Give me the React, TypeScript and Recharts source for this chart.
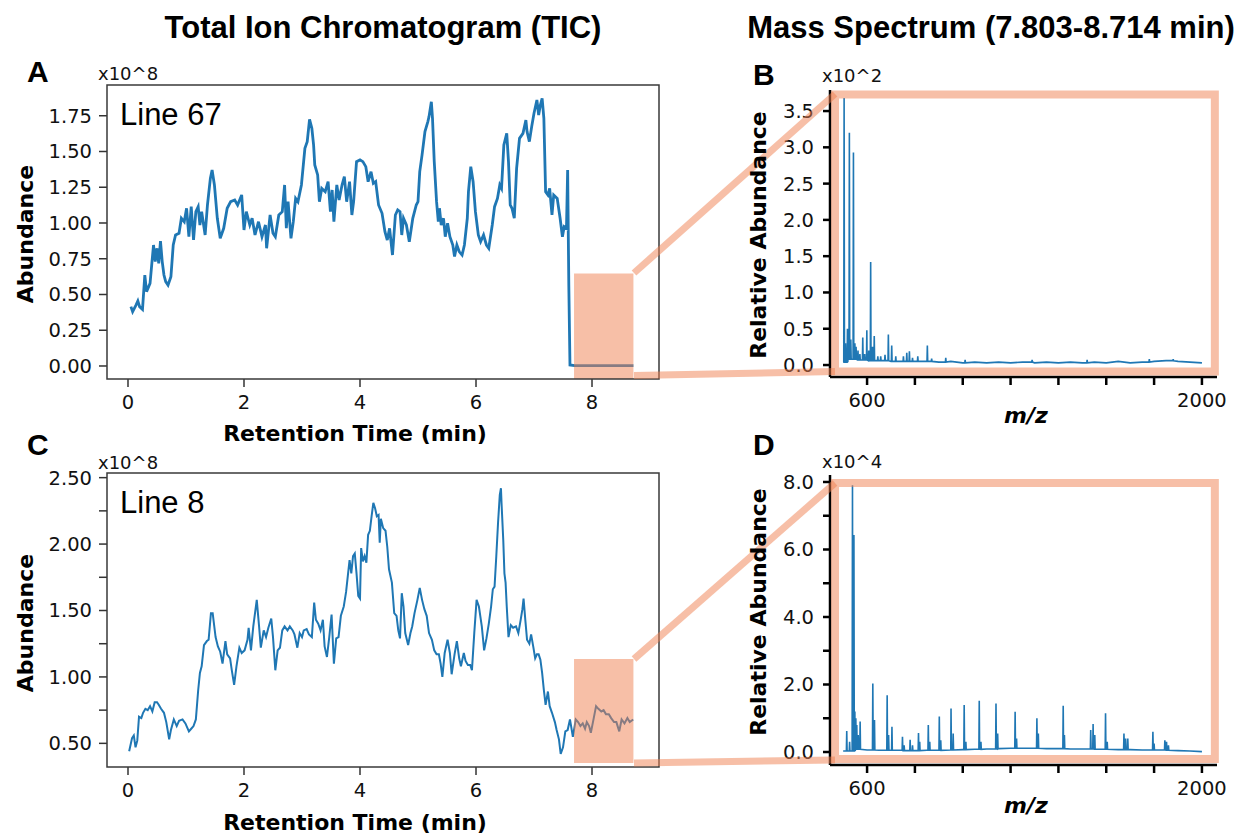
import React from "react";
import { LineChart, Line, XAxis, YAxis, ReferenceArea } from "recharts";

// ---- Panel A: TIC, Line 67 (x10^8) ----
const timeA = [
  0.05, 0.08, 0.14, 0.17, 0.2, 0.25, 0.29, 0.32, 0.38, 0.44,
  0.47, 0.5, 0.53, 0.56, 0.59, 0.62, 0.65, 0.69, 0.74, 0.78,
  0.82, 0.88, 0.92, 0.97, 1.01, 1.05, 1.09, 1.13, 1.17, 1.21,
  1.24, 1.27, 1.33, 1.37, 1.42, 1.45, 1.49, 1.54, 1.59, 1.65,
  1.71, 1.77, 1.84, 1.89, 1.96, 2.0, 2.04, 2.1, 2.14, 2.19,
  2.25, 2.31, 2.37, 2.39, 2.45, 2.5, 2.54, 2.6, 2.66, 2.7,
  2.73, 2.76, 2.81, 2.85, 2.89, 2.93, 2.99, 3.05, 3.09, 3.13,
  3.17, 3.2, 3.22, 3.27, 3.3, 3.34, 3.4, 3.45, 3.49, 3.52,
  3.55, 3.6, 3.64, 3.69, 3.73, 3.77, 3.82, 3.86, 3.89, 3.94,
  4.0, 4.05, 4.1, 4.14, 4.19, 4.23, 4.27, 4.32, 4.38, 4.43,
  4.47, 4.51, 4.56, 4.61, 4.65, 4.69, 4.72, 4.75, 4.8, 4.85,
  4.91, 4.97, 5.0, 5.03, 5.07, 5.12, 5.17, 5.19, 5.23, 5.25,
  5.28, 5.32, 5.35, 5.37, 5.4, 5.44, 5.47, 5.51, 5.55, 5.6,
  5.63, 5.67, 5.71, 5.76, 5.8, 5.85, 5.87, 5.91, 5.95, 5.99,
  6.04, 6.08, 6.13, 6.18, 6.22, 6.28, 6.32, 6.37, 6.41, 6.44,
  6.48, 6.53, 6.56, 6.59, 6.62, 6.66, 6.7, 6.75, 6.81, 6.86,
  6.88, 6.92, 6.96, 7.0, 7.05, 7.08, 7.11, 7.14, 7.17, 7.2,
  7.24, 7.27, 7.31, 7.34, 7.4, 7.45, 7.49, 7.52, 7.56, 7.58,
  7.6, 7.62, 7.7, 8.714,
];
const abundanceA = [
  0.415, 0.38, 0.427, 0.455, 0.415, 0.396, 0.636, 0.52, 0.578, 0.846,
  0.73, 0.823, 0.718, 0.874, 0.73, 0.636, 0.59, 0.566, 0.625, 0.846,
  0.916, 0.928, 1.033, 1.009, 1.103, 0.904, 1.114, 0.881, 1.079, 1.114,
  0.986, 1.079, 0.916, 1.126, 1.312, 1.371, 1.266, 1.033, 0.893, 0.963,
  1.103, 1.149, 1.161, 1.126, 1.196, 0.951, 1.079, 0.986, 1.033, 0.916,
  1.009, 0.904, 0.986, 0.823, 1.056, 0.928, 0.904, 1.056, 1.079, 1.266,
  0.963, 1.149, 0.893, 1.009, 1.172, 1.149, 1.266, 1.522, 1.569, 1.725,
  1.662, 1.545, 1.406, 1.336, 1.149, 1.242, 1.219, 1.289, 1.079, 1.231,
  1.009, 1.266, 1.161, 1.266, 1.324, 1.149, 1.289, 1.056, 1.149, 1.429,
  1.441, 1.429, 1.394, 1.289, 1.359, 1.277, 1.289, 1.126, 1.068, 0.939,
  0.881, 0.963, 0.776, 1.056, 1.091, 1.079, 0.916, 1.033, 0.986, 0.869,
  1.033, 1.126, 1.149, 1.359, 1.476, 1.639, 1.709, 1.744, 1.848, 1.732,
  1.429, 1.149, 1.009, 1.103, 0.986, 1.033, 0.904, 0.998, 0.904, 0.846,
  0.765, 0.846, 0.8, 0.776, 0.846, 1.033, 1.219, 1.394, 1.289, 1.079,
  0.916, 0.869, 0.916, 0.846, 0.823, 0.986, 1.114, 1.172, 1.266, 1.242,
  1.545, 1.627, 1.429, 1.126, 1.103, 1.033, 1.382, 1.592, 1.627, 1.72,
  1.639, 1.569, 1.674, 1.767, 1.86, 1.755, 1.825, 1.872, 1.732, 1.219,
  1.196, 1.242, 1.056, 1.196, 1.172, 1.033, 0.904, 0.974, 0.963, 1.371,
  0.566, 0.007, 0.002, 0.002,
];

// ---- Panel C: TIC, Line 8 (x10^8) ----
const timeC = [
  0.02, 0.07, 0.1, 0.13, 0.16, 0.19, 0.23, 0.26, 0.3, 0.34,
  0.38, 0.42, 0.46, 0.5, 0.53, 0.57, 0.62, 0.66, 0.71, 0.74,
  0.79, 0.84, 0.88, 0.94, 0.99, 1.05, 1.09, 1.13, 1.17, 1.21,
  1.24, 1.27, 1.31, 1.36, 1.39, 1.43, 1.46, 1.51, 1.55, 1.59,
  1.63, 1.68, 1.71, 1.76, 1.79, 1.83, 1.87, 1.92, 1.96, 2.01,
  2.06, 2.08, 2.12, 2.16, 2.22, 2.26, 2.29, 2.34, 2.38, 2.42,
  2.47, 2.5, 2.54, 2.58, 2.62, 2.66, 2.7, 2.75, 2.79, 2.84,
  2.87, 2.92, 2.96, 3.0, 3.03, 3.08, 3.12, 3.17, 3.21, 3.24,
  3.28, 3.32, 3.36, 3.39, 3.43, 3.47, 3.51, 3.55, 3.59, 3.63,
  3.67, 3.72, 3.76, 3.79, 3.82, 3.85, 3.88, 3.91, 3.94, 3.97,
  4.0, 4.02, 4.05, 4.08, 4.11, 4.14, 4.17, 4.2, 4.23, 4.26,
  4.29, 4.32, 4.34, 4.36, 4.4, 4.44, 4.47, 4.5, 4.55, 4.59,
  4.63, 4.66, 4.69, 4.72, 4.75, 4.78, 4.83, 4.87, 4.9, 4.94,
  4.99, 5.03, 5.07, 5.11, 5.15, 5.19, 5.24, 5.28, 5.32, 5.36,
  5.39, 5.42, 5.46, 5.51, 5.55, 5.58, 5.63, 5.67, 5.71, 5.74,
  5.79, 5.82, 5.86, 5.9, 5.93, 5.97, 6.01, 6.05, 6.1, 6.14,
  6.18, 6.22, 6.26, 6.29, 6.32, 6.35, 6.38, 6.41, 6.43, 6.44,
  6.47, 6.49, 6.51, 6.53, 6.56, 6.6, 6.64, 6.69, 6.73, 6.77,
  6.8, 6.82, 6.85, 6.88, 6.92, 6.95, 6.99, 7.02, 7.05, 7.08,
  7.11, 7.14, 7.17, 7.2, 7.24, 7.27, 7.31, 7.36, 7.39, 7.43,
  7.46, 7.5, 7.54, 7.58, 7.62, 7.67, 7.72, 7.76, 7.8, 7.84,
  7.88, 7.91, 7.95, 7.98, 8.03, 8.07, 8.11, 8.16, 8.2, 8.24,
  8.29, 8.33, 8.38, 8.42, 8.47, 8.51, 8.56, 8.61, 8.65, 8.71,
];
const abundanceC = [
  0.44, 0.54, 0.56, 0.47, 0.52, 0.7, 0.69, 0.73, 0.76, 0.75,
  0.78, 0.74, 0.81, 0.81, 0.79, 0.76, 0.73, 0.66, 0.53, 0.6,
  0.68, 0.63, 0.67, 0.68, 0.65, 0.59, 0.61, 0.63, 0.68, 0.9,
  1.03, 1.08, 1.24, 1.27, 1.28, 1.48, 1.48, 1.3, 1.23, 1.19,
  1.1, 1.27, 1.17, 1.14, 1.05, 0.94, 1.08, 1.22, 1.18, 1.2,
  1.28, 1.37, 1.2, 1.38, 1.58, 1.38, 1.22, 1.35, 1.3, 1.37,
  1.44, 1.3, 1.05, 1.2, 1.22, 1.35, 1.38, 1.35, 1.38, 1.35,
  1.32, 1.22, 1.33, 1.3, 1.35, 1.36, 1.32, 1.3, 1.56, 1.43,
  1.4, 1.35, 1.43, 1.23, 1.15, 1.3, 1.47, 1.1, 1.29, 1.3,
  1.46, 1.53, 1.64, 1.76, 1.88, 1.78, 1.91, 1.93, 1.78, 1.61,
  1.59, 1.97, 1.87, 1.91, 1.86, 2.07, 2.1, 2.21, 2.31, 2.27,
  2.21, 2.22, 2.01, 2.19, 2.12, 2.1, 1.98, 1.81, 1.71, 1.48,
  1.46, 1.35, 1.29, 1.63, 1.53, 1.33, 1.24, 1.33, 1.38, 1.48,
  1.58, 1.67, 1.58, 1.51, 1.46, 1.33, 1.28, 1.2, 1.17, 1.17,
  1.1, 1.0, 1.18, 1.28, 1.18, 1.02, 1.17, 1.27, 1.14, 1.08,
  1.18, 1.12, 1.09, 1.09, 1.05, 1.33, 1.58, 1.53, 1.38, 1.2,
  1.29, 1.4, 1.53, 1.66, 1.68, 1.91, 2.16, 2.37, 2.42, 2.31,
  2.03, 1.78, 1.71, 1.53, 1.3, 1.39, 1.37, 1.38, 1.33, 1.43,
  1.51, 1.59, 1.43, 1.28, 1.25, 1.32, 1.22, 1.14, 1.17, 1.17,
  1.13, 1.03, 0.9, 0.79, 0.89, 0.78, 0.73, 0.66, 0.6, 0.53,
  0.42, 0.47, 0.59, 0.6, 0.68, 0.55, 0.68, 0.66, 0.63, 0.65,
  0.61, 0.66, 0.63, 0.58, 0.69, 0.78, 0.76, 0.74, 0.75, 0.72,
  0.72, 0.69, 0.66, 0.66, 0.59, 0.68, 0.65, 0.69, 0.66, 0.68,
];

// ---- Panel B: mass spectrum for Line 67 (x10^2) ----
const mzBaseB = [500, 520, 560, 600, 650, 700, 750, 800, 850, 900, 950, 1000, 1050, 1100, 1150, 1200, 1250, 1300, 1350, 1400, 1450, 1500, 1550, 1600, 1650, 1700, 1750, 1800, 1850, 1900, 1950, 2000];
const baseB = [0.04, 0.08, 0.07, 0.06, 0.06, 0.05, 0.05, 0.05, 0.05, 0.04, 0.05, 0.03, 0.04, 0.03, 0.04, 0.03, 0.04, 0.03, 0.04, 0.03, 0.04, 0.03, 0.04, 0.03, 0.05, 0.03, 0.04, 0.05, 0.06, 0.05, 0.04, 0.03];
const mzPeakB = [504, 510, 518, 526, 532, 543, 549, 554, 562, 570, 582, 590, 599, 607, 615, 623, 630, 645, 657, 675, 689, 703, 720, 752, 766, 777, 790, 812, 852, 870, 929, 1010, 1290, 1520, 1780, 1880];
const peakB = [3.68, 0.3, 0.5, 3.2, 0.35, 2.93, 0.3, 0.25, 0.2, 0.15, 0.38, 0.15, 0.48, 0.2, 1.42, 0.25, 0.4, 0.12, 0.12, 0.14, 0.42, 0.27, 0.12, 0.12, 0.17, 0.19, 0.1, 0.12, 0.27, 0.09, 0.1, 0.07, 0.07, 0.07, 0.08, 0.08];

// ---- Panel D: mass spectrum for Line 8 (x10^4) ----
const mzBaseD = [500, 550, 600, 650, 700, 750, 800, 850, 900, 950, 1000, 1050, 1100, 1150, 1200, 1250, 1300, 1350, 1400, 1450, 1500, 1550, 1600, 1650, 1700, 1750, 1800, 1850, 1900, 1950, 2000];
const baseD = [0.03, 0.08, 0.06, 0.05, 0.05, 0.04, 0.04, 0.05, 0.05, 0.06, 0.07, 0.08, 0.09, 0.1, 0.11, 0.11, 0.11, 0.1, 0.1, 0.09, 0.09, 0.08, 0.08, 0.07, 0.07, 0.06, 0.06, 0.05, 0.04, 0.03, 0.01];
const mzPeakD = [515, 527, 539, 545, 549, 553, 557, 563, 571, 624, 631, 684, 690, 704, 748, 755, 780, 790, 815, 820, 856, 862, 902, 908, 951, 960, 1006, 1013, 1069, 1076, 1139, 1146, 1219, 1225, 1310, 1316, 1420, 1425, 1535, 1545, 1552, 1597, 1604, 1674, 1681, 1690, 1795, 1800, 1845, 1852, 1860];
const peakD = [0.62, 0.3, 7.9, 6.43, 1.2, 1.0, 0.8, 0.5, 0.9, 2.03, 0.95, 1.68, 0.5, 0.75, 0.45, 0.2, 0.36, 0.2, 0.56, 0.3, 0.8, 0.3, 1.05, 0.35, 1.29, 0.55, 1.39, 0.3, 1.52, 0.3, 1.44, 0.55, 1.19, 0.4, 1.0, 0.55, 1.37, 0.5, 0.65, 0.83, 0.5, 1.15, 0.3, 0.55, 0.4, 0.4, 0.6, 0.25, 0.35, 0.3, 0.2];

// tick values
const timeTicks = [0, 2, 4, 6, 8];
const ticksA = [0, 0.25, 0.5, 0.75, 1, 1.25, 1.5, 1.75];
const ticksC = [0.5, 0.75, 1, 1.25, 1.5, 1.75, 2, 2.25, 2.5];
const mzTicks = [600, 800, 1000, 1200, 1400, 1600, 1800, 2000];
const ticksB = [0, 0.5, 1, 1.5, 2, 2.5, 3, 3.5];
const ticksD = [0, 1, 2, 3, 4, 5, 6, 7, 8];

const selStart = 7.69;
const selEnd = 8.714;

const BLUE = "#1f77b4";
const SALMON = "#F08050";
const TICK_FONT = "DejaVu Sans";
const tickStyle = { fontSize: 19.5, fontFamily: TICK_FONT, fill: "#111" };

// axis band sizes (plot offsets are margin + these)
const X_H = 30;
const Y_W = 60;

const dataA = timeA.map((t, i) => ({ t, v: abundanceA[i] }));
const dataC = timeC.map((t, i) => ({ t, v: abundanceC[i] }));

function buildSpectrum(baseMz: number[], baseVal: number[], peakMz: number[], peakVal: number[]) {
  const pts = baseMz.map((mz, i) => ({ mz, v: baseVal[i] }));
  peakMz.forEach((mz, i) => {
    let foot = baseVal[0];
    baseMz.forEach((b, j) => {
      if (b <= mz) foot = baseVal[j];
    });
    pts.push({ mz: mz - 1.5, v: foot }, { mz, v: peakVal[i] }, { mz: mz + 1.5, v: foot });
  });
  return pts.sort((a, b) => a.mz - b.mz);
}

const dataB = buildSpectrum(mzBaseB, baseB, mzPeakB, peakB);
const dataD = buildSpectrum(mzBaseD, baseD, mzPeakD, peakD);

const halfStep = (v: number) => (Math.abs(v * 2 - Math.round(v * 2)) < 1e-6 ? v.toFixed(2) : "");
const evenOnly = (v: number) => (v % 2 === 0 ? v.toFixed(1) : "");
const mzLabel = (v: number) => (v === 600 || v === 2000 ? String(v) : "");

// plot box: left 107, right 659 (chart width 680)
function TicPanel({ data, yDomain, yTicks, yFormat, rect, strokeWidth, top, bottom, height }: any) {
  const xDomain = [-0.362, 9.155];
  return (
    <LineChart
      width={680}
      height={height}
      data={data}
      margin={{ top, right: 21, bottom: bottom - X_H, left: 107 - Y_W }}
    >
      <XAxis
        type="number"
        dataKey="t"
        domain={xDomain}
        allowDataOverflow
        ticks={timeTicks}
        interval={0}
        height={X_H}
        axisLine={false}
        tickSize={8}
        tickMargin={8}
        tickLine={{ stroke: "#333", strokeWidth: 1.5 }}
        tick={tickStyle}
      />
      <YAxis
        type="number"
        domain={yDomain}
        allowDataOverflow
        ticks={yTicks}
        interval={0}
        tickFormatter={yFormat}
        width={Y_W}
        axisLine={false}
        tickSize={8}
        tickMargin={7}
        tickLine={{ stroke: "#333", strokeWidth: 1.5 }}
        tick={tickStyle}
      />
      <Line
        type="linear"
        dataKey="v"
        stroke={BLUE}
        strokeWidth={strokeWidth}
        dot={false}
        activeDot={false}
        isAnimationActive={false}
      />
      <ReferenceArea
        x1={selStart}
        x2={selEnd}
        y1={rect[0]}
        y2={rect[1]}
        fill={SALMON}
        fillOpacity={0.5}
        stroke="none"
        zIndex={900}
      />
      <ReferenceArea
        x1={xDomain[0]}
        x2={xDomain[1]}
        y1={yDomain[0]}
        y2={yDomain[1]}
        fill="none"
        stroke="#3a3a3a"
        strokeWidth={1.5}
        zIndex={950}
      />
    </LineChart>
  );
}

// plot box: left 830, right 1217 (chart at x=680, width 564)
function SpectrumPanel({ data, yDomain, yTicks, yFormat, box, top, bottom, height }: any) {
  return (
    <LineChart
      width={564}
      height={height}
      data={data}
      margin={{ top, right: 27, bottom: bottom - X_H, left: 150 - Y_W }}
    >
      <XAxis
        type="number"
        dataKey="mz"
        domain={[445, 2063]}
        allowDataOverflow
        ticks={mzTicks}
        interval={0}
        tickFormatter={mzLabel}
        height={X_H}
        axisLine={{ stroke: "#000", strokeWidth: 2.5 }}
        tickSize={8}
        tickMargin={8}
        tickLine={{ stroke: "#000", strokeWidth: 2.5 }}
        tick={tickStyle}
      />
      <YAxis
        type="number"
        domain={yDomain}
        allowDataOverflow
        ticks={yTicks}
        interval={0}
        tickFormatter={yFormat}
        width={Y_W}
        axisLine={{ stroke: "#000", strokeWidth: 2.5 }}
        tickSize={7}
        tickMargin={9}
        tickLine={{ stroke: "#000", strokeWidth: 2.5 }}
        tick={tickStyle}
      />
      <Line
        type="linear"
        dataKey="v"
        stroke={BLUE}
        strokeWidth={1.6}
        dot={false}
        activeDot={false}
        isAnimationActive={false}
      />
      <ReferenceArea
        x1={466}
        x2={2054}
        y1={box[0]}
        y2={box[1]}
        fill="none"
        stroke={SALMON}
        strokeOpacity={0.5}
        strokeWidth={8}
        zIndex={900}
      />
    </LineChart>
  );
}

const labelFont = "DejaVu Sans";
const titleFont = "Liberation Sans";

export default function App() {
  return (
    <div
      style={{
        position: "absolute",
        left: 0,
        top: 0,
        width: 1244,
        height: 835,
        background: "#fff",
        overflow: "hidden",
      }}
    >
      <div style={{ position: "absolute", left: 0, top: 0 }}>
        <TicPanel
          data={dataA}
          height={460}
          top={85}
          bottom={81}
          yDomain={[-0.091, 1.965]}
          yTicks={ticksA}
          yFormat={(v: number) => v.toFixed(2)}
          rect={[-0.091, 0.646]}
          strokeWidth={2.8}
        />
      </div>
      <div style={{ position: "absolute", left: 0, top: 440 }}>
        <TicPanel
          data={dataC}
          height={395}
          top={33}
          bottom={68}
          yDomain={[0.322, 2.535]}
          yTicks={ticksC}
          yFormat={halfStep}
          rect={[0.352, 1.135]}
          strokeWidth={2}
        />
      </div>
      <div style={{ position: "absolute", left: 680, top: 0 }}>
        <SpectrumPanel
          data={dataB}
          height={440}
          top={90}
          bottom={63}
          yDomain={[-0.165, 3.79]}
          yTicks={ticksB}
          yFormat={(v: number) => v.toFixed(1)}
          box={[-0.09, 3.727]}
        />
      </div>
      <div style={{ position: "absolute", left: 680, top: 440 }}>
        <SpectrumPanel
          data={dataD}
          height={395}
          top={35}
          bottom={70}
          yDomain={[-0.385, 8.207]}
          yTicks={ticksD}
          yFormat={evenOnly}
          box={[-0.207, 7.97]}
        />
      </div>

      <svg
        width={1244}
        height={835}
        style={{ position: "absolute", left: 0, top: 0, pointerEvents: "none" }}
      >
        {/* zoom connectors */}
        <g stroke={SALMON} strokeOpacity={0.5} strokeWidth={7}>
          <line x1={634} y1={273} x2={835} y2={94} />
          <line x1={634} y1={375.5} x2={835} y2={371.5} />
          <line x1={634} y1={659} x2={835} y2={483} />
          <line x1={634} y1={763} x2={835} y2={760} />
        </g>

        <g fontFamily={titleFont} fontWeight="bold" fill="#000">
          <text x={383} y={38} fontSize={31} textAnchor="middle">Total Ion Chromatogram (TIC)</text>
          <text x={991} y={38} fontSize={31} textAnchor="middle">Mass Spectrum (7.803-8.714 min)</text>
          <text x={27} y={82} fontSize={30}>A</text>
          <text x={753} y={85} fontSize={30}>B</text>
          <text x={27} y={455} fontSize={30}>C</text>
          <text x={753} y={455} fontSize={30}>D</text>
        </g>

        <g fontFamily={titleFont} fontSize={31} fill="#000">
          <text x={120} y={125}>Line 67</text>
          <text x={120} y={513}>Line 8</text>
        </g>

        <g fontFamily={TICK_FONT} fontSize={18} fill="#111">
          <text x={98} y={80}>x10^8</text>
          <text x={822} y={82}>x10^2</text>
          <text x={98} y={469}>x10^8</text>
          <text x={822} y={468}>x10^4</text>
        </g>

        <g fontFamily={labelFont} fontWeight="bold" fontSize={22} fill="#000">
          <text x={33} y={234} textAnchor="middle" transform="rotate(-90 33 234)">Abundance</text>
          <text x={33} y={623} textAnchor="middle" transform="rotate(-90 33 623)">Abundance</text>
          <text x={766} y={235} textAnchor="middle" transform="rotate(-90 766 235)">Relative Abundance</text>
          <text x={766} y={612} textAnchor="middle" transform="rotate(-90 766 612)">Relative Abundance</text>
          <text x={355} y={441} textAnchor="middle">Retention Time (min)</text>
          <text x={355} y={830} textAnchor="middle">Retention Time (min)</text>
          <text x={1026} y={423} textAnchor="middle" fontStyle="italic">m/z</text>
          <text x={1026} y={813} textAnchor="middle" fontStyle="italic">m/z</text>
        </g>
      </svg>
    </div>
  );
}
